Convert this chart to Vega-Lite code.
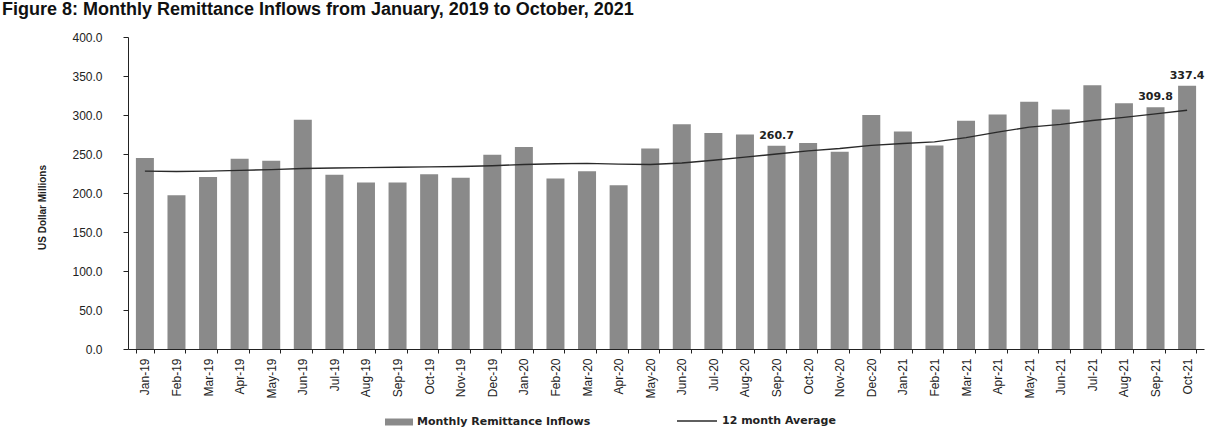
{
  "$schema": "https://vega.github.io/schema/vega-lite/v6.json",
  "width": 1076,
  "height": 312,
  "autosize": {"type": "none"},
  "padding": {"left": 128, "top": 37, "right": 19, "bottom": 86},
  "background": "white",
  "title": {
    "text": "Figure 8: Monthly Remittance Inflows from January, 2019 to October, 2021",
    "anchor": "start",
    "frame": "group",
    "font": "Liberation Sans",
    "fontSize": 18,
    "fontWeight": "bold",
    "color": "#111111",
    "dx": -126,
    "offset": 12
  },
  "config": {
    "view": {"stroke": null},
    "axis": {"domainColor": "#222222", "tickColor": "#222222", "labelColor": "#222222", "titleColor": "#222222", "grid": false}
  },
  "data": {
    "values": [
      {"month": "Jan-19", "value": 245, "avg": 228},
      {"month": "Feb-19", "value": 197, "avg": 227.5},
      {"month": "Mar-19", "value": 220.5, "avg": 228},
      {"month": "Apr-19", "value": 244, "avg": 229},
      {"month": "May-19", "value": 241.5, "avg": 230},
      {"month": "Jun-19", "value": 294, "avg": 231.5},
      {"month": "Jul-19", "value": 223.5, "avg": 232},
      {"month": "Aug-19", "value": 213.5, "avg": 232.5},
      {"month": "Sep-19", "value": 213.5, "avg": 233},
      {"month": "Oct-19", "value": 224, "avg": 233.5},
      {"month": "Nov-19", "value": 219.5, "avg": 234},
      {"month": "Dec-19", "value": 249, "avg": 235},
      {"month": "Jan-20", "value": 259, "avg": 236.5},
      {"month": "Feb-20", "value": 218.5, "avg": 237.5},
      {"month": "Mar-20", "value": 228, "avg": 238},
      {"month": "Apr-20", "value": 210, "avg": 237},
      {"month": "May-20", "value": 257, "avg": 236.5},
      {"month": "Jun-20", "value": 288, "avg": 238.5},
      {"month": "Jul-20", "value": 277, "avg": 242},
      {"month": "Aug-20", "value": 275, "avg": 246},
      {"month": "Sep-20", "value": 260.7, "avg": 250},
      {"month": "Oct-20", "value": 264, "avg": 254},
      {"month": "Nov-20", "value": 253, "avg": 257},
      {"month": "Dec-20", "value": 300, "avg": 261},
      {"month": "Jan-21", "value": 279, "avg": 263.5},
      {"month": "Feb-21", "value": 261, "avg": 265.5},
      {"month": "Mar-21", "value": 292.5, "avg": 271},
      {"month": "Apr-21", "value": 300.5, "avg": 278},
      {"month": "May-21", "value": 317, "avg": 284.5},
      {"month": "Jun-21", "value": 307, "avg": 288},
      {"month": "Jul-21", "value": 338, "avg": 293},
      {"month": "Aug-21", "value": 315, "avg": 297},
      {"month": "Sep-21", "value": 309.8, "avg": 301.5},
      {"month": "Oct-21", "value": 337.4, "avg": 306}
    ]
  },
  "encoding": {
    "x": {
      "field": "month",
      "type": "ordinal",
      "sort": null,
      "scale": {"paddingInner": 0.43, "paddingOuter": 0.25},
      "axis": {
        "title": null,
        "labelAngle": -90,
        "labelFont": "'Liberation Sans Narrow', 'Liberation Sans', sans-serif",
        "labelFontSize": 12,
        "labelPadding": 5,
        "tickBand": "extent",
        "tickSize": 4
      }
    }
  },
  "layer": [
    {
      "mark": {"type": "bar"},
      "encoding": {
        "y": {
          "field": "value",
          "type": "quantitative",
          "scale": {"domain": [0, 400], "nice": false},
          "axis": {
            "title": "US Dollar Millions",
            "titleFont": "'Liberation Sans Narrow', 'Liberation Sans', sans-serif",
            "titleFontSize": 10,
            "titleFontWeight": "bold",
            "titleX": -86,
            "titleY": 170,
            "titleAngle": -90,
            "titleAlign": "center",
            "titleBaseline": "middle",
            "values": [0, 50, 100, 150, 200, 250, 300, 350, 400],
            "labelOverlap": false,
            "format": ".1f",
            "labelFont": "'Liberation Sans Narrow', 'Liberation Sans', sans-serif",
            "labelFontSize": 12,
            "labelPadding": 21,
            "tickSize": 5
          }
        },
        "fill": {
          "datum": "Monthly Remittance Inflows",
          "type": "nominal",
          "scale": {"range": ["#8a8a8a"]},
          "legend": {
            "title": null,
            "orient": "none",
            "legendX": 257,
            "legendY": 371,
            "labelLimit": 400,
            "symbolType": "M-1,-0.25H1V0.25H-1Z",
            "symbolSize": 784,
            "symbolStrokeWidth": 0,
            "labelFont": "DejaVu Sans",
            "labelFontSize": 11,
            "labelFontWeight": "bold",
            "labelColor": "#222222"
          }
        }
      }
    },
    {
      "mark": {"type": "line", "strokeWidth": 1.4},
      "encoding": {
        "y": {
          "field": "avg",
          "type": "quantitative",
          "axis": {
            "title": "US Dollar Millions",
            "titleFont": "'Liberation Sans Narrow', 'Liberation Sans', sans-serif",
            "titleFontSize": 10,
            "titleFontWeight": "bold",
            "titleX": -86,
            "titleY": 170,
            "titleAngle": -90,
            "titleAlign": "center",
            "titleBaseline": "middle",
            "values": [0, 50, 100, 150, 200, 250, 300, 350, 400],
            "labelOverlap": false,
            "format": ".1f",
            "labelFont": "'Liberation Sans Narrow', 'Liberation Sans', sans-serif",
            "labelFontSize": 12,
            "labelPadding": 21,
            "tickSize": 5
          }
        },
        "stroke": {
          "datum": "12 month Average",
          "type": "nominal",
          "scale": {"range": ["#2a2a2a"]},
          "legend": {
            "title": null,
            "orient": "none",
            "legendX": 548,
            "legendY": 363,
            "labelLimit": 400,
            "symbolType": "stroke",
            "symbolSize": 1600,
            "symbolStrokeWidth": 1.4,
            "labelFont": "DejaVu Sans",
            "labelFontSize": 11,
            "labelFontWeight": "bold",
            "labelColor": "#222222"
          }
        }
      }
    },
    {
      "transform": [{"filter": {"field": "month", "oneOf": ["Sep-20", "Sep-21", "Oct-21"]}}],
      "mark": {"type": "text", "baseline": "bottom", "dy": -5, "font": "DejaVu Sans", "fontSize": 11, "fontWeight": "bold", "color": "#222222"},
      "encoding": {
        "y": {
          "field": "value",
          "type": "quantitative",
          "axis": {
            "title": "US Dollar Millions",
            "titleFont": "'Liberation Sans Narrow', 'Liberation Sans', sans-serif",
            "titleFontSize": 10,
            "titleFontWeight": "bold",
            "titleX": -86,
            "titleY": 170,
            "titleAngle": -90,
            "titleAlign": "center",
            "titleBaseline": "middle",
            "values": [0, 50, 100, 150, 200, 250, 300, 350, 400],
            "labelOverlap": false,
            "format": ".1f",
            "labelFont": "'Liberation Sans Narrow', 'Liberation Sans', sans-serif",
            "labelFontSize": 12,
            "labelPadding": 21,
            "tickSize": 5
          }
        },
        "text": {"field": "value", "type": "quantitative", "format": ".1f"}
      }
    }
  ]
}
